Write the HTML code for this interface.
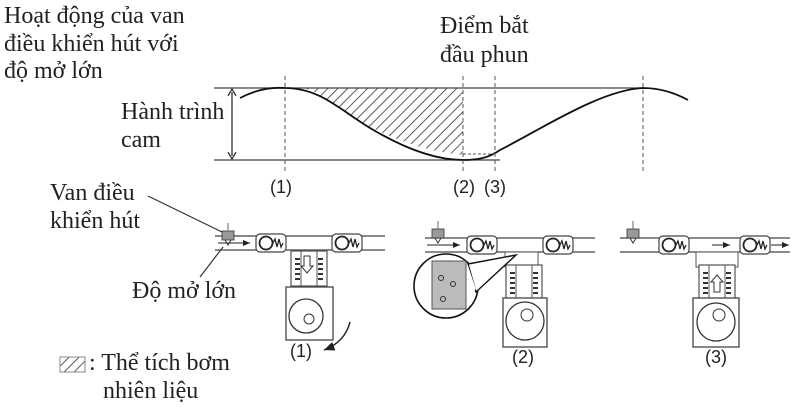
<!DOCTYPE html>
<html><head><meta charset="utf-8"><style>
html,body{margin:0;padding:0;background:#fff;}
svg{display:block;}
text{font-family:"Liberation Serif",serif;fill:#222;}
.s{font-family:"Liberation Sans",sans-serif;font-size:18px;}
</style></head><body>
<svg width="800" height="409" viewBox="0 0 800 409" xmlns="http://www.w3.org/2000/svg">
<defs>
<pattern id="h" patternUnits="userSpaceOnUse" width="7" height="7" patternTransform="rotate(45)">
<line x1="0" y1="0" x2="0" y2="7" stroke="#333" stroke-width="1.6"/></pattern>
<marker id="a" markerWidth="8" markerHeight="8" refX="7" refY="4" orient="auto"><path d="M0,1 L7,4 L0,7 z" fill="#222"/></marker>
<g id="valve">
<rect x="0" y="-9" width="30" height="18" rx="4" fill="#fff" stroke="#444" stroke-width="1.2"/>
<circle cx="10" cy="0" r="6.5" fill="#fff" stroke="#222" stroke-width="1.8"/>
<path d="M17,0 l2,-4 l2,8 l2,-8 l2,8 l2,-4" fill="none" stroke="#222" stroke-width="1.3"/>
</g>
<g id="pump">
<rect x="0" y="0" width="36" height="35" fill="#fff" stroke="#555" stroke-width="1.2"/>
<line x1="10" y1="0" x2="10" y2="35" stroke="#555"/><line x1="26" y1="0" x2="26" y2="35" stroke="#555"/>
<path d="M4,8 h5 M4,13 h5 M4,18 h5 M4,23 h5 M4,28 h5 M27,8 h5 M27,13 h5 M27,18 h5 M27,23 h5 M27,28 h5" stroke="#333" stroke-width="2"/>
</g>
<g id="inlet">
<rect x="0" y="0" width="12" height="9" fill="#999" stroke="#333" stroke-width="0.8"/>
<line x1="6" y1="-8" x2="6" y2="0" stroke="#666"/>
<path d="M3,9 L6,14 L9,9" fill="none" stroke="#333"/>
</g>
</defs>

<text x="4" y="23" font-size="24">Hoạt động của van</text>
<text x="4" y="51" font-size="24">điều khiển hút với</text>
<text x="4" y="78" font-size="24">độ mở lớn</text>
<text x="440" y="33" font-size="24">Điểm bắt</text>
<text x="440" y="62" font-size="24">đầu phun</text>
<text x="121" y="119" font-size="24">Hành trình</text>
<text x="121" y="147" font-size="24">cam</text>

<path d="M300,88 L463,88 L463,155 C430,152 400,142 370,127 C340,110 320,90 300,88 z" fill="url(#h)"/>
<line x1="214" y1="88" x2="645" y2="88" stroke="#444" stroke-width="1.2"/>
<line x1="214" y1="160" x2="500" y2="160" stroke="#444" stroke-width="1.2"/>
<line x1="232" y1="92" x2="232" y2="156" stroke="#222" stroke-width="1.2"/>
<path d="M228,96 L232,89 L236,96 M228,152 L232,159 L236,152" fill="none" stroke="#222" stroke-width="1.2"/>
<path d="M240,98 C255,90 270,87 285,88 C320,88 340,110 370,128 C410,152 440,160 463,160 C480,160 490,157 500,150 C540,130 600,90 643,88 C660,88 675,93 688,100" fill="none" stroke="#111" stroke-width="1.8"/>
<path d="M463,154 L495,154" fill="none" stroke="#555" stroke-dasharray="3,2"/>
<g stroke="#555" stroke-width="1" stroke-dasharray="4,3">
<line x1="285" y1="76" x2="285" y2="172"/><line x1="463" y1="76" x2="463" y2="172"/>
<line x1="495" y1="76" x2="495" y2="172"/><line x1="643" y1="76" x2="643" y2="172"/>
</g>
<text class="s" x="270" y="193">(1)</text>
<text class="s" x="453" y="193">(2)</text>
<text class="s" x="484" y="193">(3)</text>

<text x="50" y="200" font-size="24">Van điều</text>
<text x="50" y="228" font-size="24">khiển hút</text>
<line x1="148" y1="196" x2="222" y2="232" stroke="#333" stroke-width="1.2"/>
<text x="132" y="298" font-size="24">Độ mở lớn</text>
<line x1="200" y1="277" x2="223" y2="247" stroke="#333" stroke-width="1.2"/>
<rect x="60" y="357" width="25" height="15" fill="url(#h)" stroke="#888"/>
<text x="89" y="370" font-size="24">: Thể tích bơm</text>
<text x="103" y="398" font-size="24">nhiên liệu</text>

<g stroke="#444" stroke-width="1.2"><line x1="215" y1="236" x2="385" y2="236"/><line x1="215" y1="250" x2="385" y2="250"/></g>
<use href="#inlet" x="222" y="231"/>
<line x1="218" y1="243" x2="250" y2="243" stroke="#222" marker-end="url(#a)"/>
<use href="#valve" x="256" y="243"/>
<use href="#valve" x="332" y="243"/>
<use href="#pump" x="291" y="251"/>
<path d="M304,256 h6 v10 h3 l-6,7 l-6,-7 h3 z" fill="#fff" stroke="#333"/>
<rect x="286" y="287" width="47" height="53" fill="#fff" stroke="#444" stroke-width="1.3"/>
<circle cx="306" cy="316" r="17" fill="#fff" stroke="#333" stroke-width="1.3"/>
<circle cx="309" cy="319" r="5" fill="#fff" stroke="#333"/>
<path d="M350,322 Q345,342 324,350" fill="none" stroke="#222" stroke-width="1.5" marker-end="url(#a)"/>
<text class="s" x="290" y="357">(1)</text>

<g stroke="#444" stroke-width="1.2"><line x1="425" y1="238" x2="595" y2="238"/><line x1="425" y1="252" x2="595" y2="252"/></g>
<use href="#inlet" x="432" y="229"/>
<line x1="427" y1="245" x2="460" y2="245" stroke="#222" marker-end="url(#a)"/>
<use href="#valve" x="467" y="245"/>
<use href="#valve" x="543" y="245"/>
<rect x="505" y="252" width="33" height="15" fill="#fff" stroke="#555"/>
<use href="#pump" x="506" y="265"/>
<rect x="503" y="298" width="44" height="49" fill="#fff" stroke="#444" stroke-width="1.3"/>
<circle cx="525" cy="321" r="19" fill="#fff" stroke="#333" stroke-width="1.3"/>
<circle cx="527" cy="315" r="6" fill="#fff" stroke="#333"/>
<circle cx="446" cy="286" r="32" fill="#fff" stroke="#111" stroke-width="1.6"/>
<path d="M468,264 L516,255 L476,292 Z" fill="#fff" stroke="#111" stroke-width="1.4"/>
<path d="M466,266 L474,290 L470,280 Z" fill="#fff" stroke="#fff" stroke-width="4"/>
<rect x="432" y="261" width="34" height="48" fill="#bbb" stroke="#555"/>
<circle cx="441" cy="278" r="2.5" fill="none" stroke="#333"/>
<circle cx="453" cy="284" r="2.5" fill="none" stroke="#333"/>
<circle cx="443" cy="299" r="2.5" fill="none" stroke="#333"/>
<text class="s" x="512" y="363">(2)</text>

<g stroke="#444" stroke-width="1.2"><line x1="620" y1="238" x2="790" y2="238"/><line x1="620" y1="252" x2="790" y2="252"/></g>
<use href="#inlet" x="627" y="229"/>
<use href="#valve" x="659" y="245"/>
<line x1="712" y1="245" x2="730" y2="245" stroke="#222" marker-end="url(#a)"/>
<use href="#valve" x="740" y="245"/>
<line x1="771" y1="245" x2="789" y2="245" stroke="#222" marker-end="url(#a)"/>
<rect x="696" y="252" width="42" height="15" fill="#fff" stroke="#555"/>
<use href="#pump" x="699" y="265"/>
<path d="M714,292 h6 v-10 h3 l-6,-7 l-6,7 h3 z" fill="#fff" stroke="#333"/>
<rect x="693" y="298" width="46" height="49" fill="#fff" stroke="#444" stroke-width="1.3"/>
<circle cx="716" cy="322" r="19" fill="#fff" stroke="#333" stroke-width="1.3"/>
<circle cx="719" cy="315" r="6" fill="#fff" stroke="#333"/>
<text class="s" x="705" y="363">(3)</text>
</svg>
</body></html>
